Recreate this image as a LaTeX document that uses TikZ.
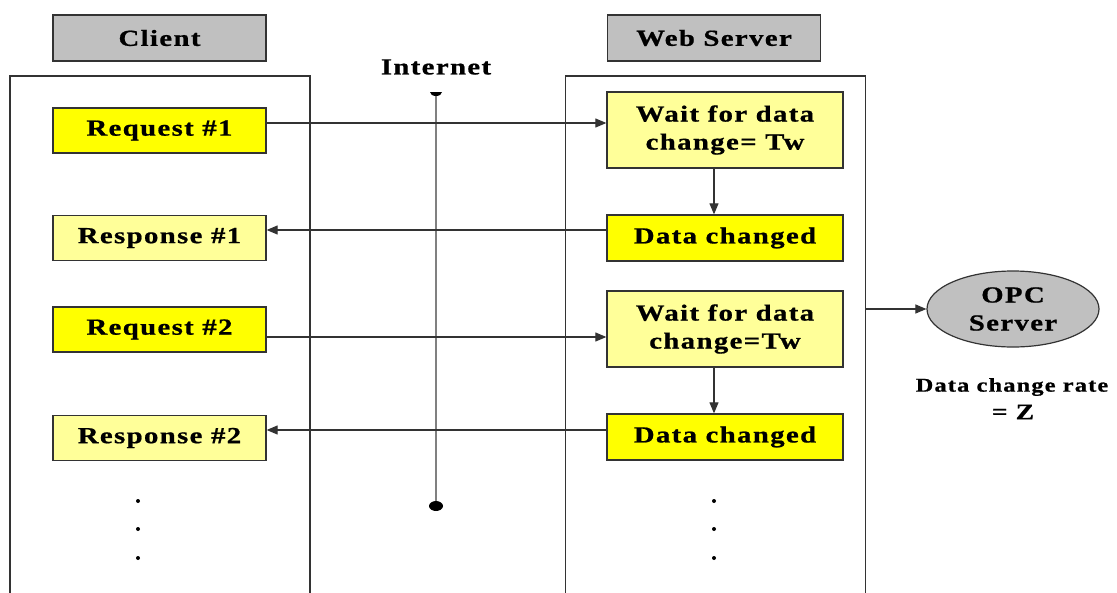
\documentclass[tikz,border=0pt]{standalone}
\usepackage{fontspec}
\setmainfont{Liberation Serif}[FakeStretch=1.25,LetterSpace=6,FakeBold=0.8]
\usetikzlibrary{arrows.meta,shapes.geometric,calc}
\definecolor{hdrgray}{HTML}{C0C0C0}
\definecolor{ybright}{HTML}{FFFF00}
\definecolor{ylight}{HTML}{FFFF99}
\definecolor{edge}{HTML}{333333}
\begin{document}
\begin{tikzpicture}[x=1pt,y=-1pt,
  every node/.style={font=\bfseries\fontsize{23}{28}\selectfont, inner sep=0pt},
  hdr/.style={draw=edge, line width=1.3pt, fill=hdrgray, minimum width=213pt, minimum height=46pt},
  lane/.style={draw=edge, line width=1.3pt, minimum width=300pt, minimum height=530pt},
  cbox/.style={draw=edge, line width=1.3pt, minimum width=213pt, minimum height=45pt},
  sbox/.style={draw=edge, line width=1.3pt, minimum width=236pt, align=center},
  arr/.style={draw=edge, line width=1.1pt, -{Triangle[length=11pt,width=9pt]}},
  dotmark/.style={circle, fill=black, minimum size=4pt}
]
\useasboundingbox (0,0) rectangle (1117,592);
\fill[white] (0,0) rectangle (1117,592);

% lanes
\node[lane] (clane) at (160,341) {};
\node[lane] (slane) at (715.5,341) {};

% headers
\node[hdr] (client) at (159.5,38) {Client};
\node[hdr] (web) at (714,38) {Web Server};

% client boxes
\node[cbox, fill=ybright] (req1) at (159.5,130.5) {Request \#1};
\node[cbox, fill=ylight] (resp1) at (159.5,238) {Response \#1};
\node[cbox, fill=ybright] (req2) at (159.5,329.5) {Request \#2};
\node[cbox, fill=ylight] (resp2) at (159.5,438) {Response \#2};

% server boxes
\node[sbox, fill=ylight, minimum height=76pt] (wait1) at (725,130) {Wait for data\\change= Tw};
\node[sbox, fill=ybright, minimum height=46pt] (dc1) at (725,238) {Data changed};
\node[sbox, fill=ylight, minimum height=76pt] (wait2) at (725,329) {Wait for data\\change=Tw};
\node[sbox, fill=ybright, minimum height=46pt] (dc2) at (725,437) {Data changed};

% internet
\node (inet) at (436,67) {Internet};
\coordinate (itop) at (436,92);
\coordinate (ibot) at (436,506);
\draw[gray, line width=1.6pt] (itop) -- (ibot);
\fill[black] ([xshift=-6pt]itop) arc[start angle=180, end angle=360, x radius=6pt, y radius=4pt] -- cycle;
\fill[black] (ibot) ellipse[x radius=7pt, y radius=5pt];

% OPC server
\node[ellipse, draw=edge, line width=1.2pt, fill=hdrgray, minimum width=172pt, minimum height=76pt, align=center] (opc) at (1013,309) {OPC\\Server};
\node[font=\bfseries\fontsize{19.5}{22}\selectfont] (rate) at (1012,387) {Data change rate};
\node[font=\bfseries\fontsize{22}{26}\selectfont] (zval) at (1013,412) {= Z};

% connectors
\draw[arr] ([yshift=7.5pt]req1.east) -- ([yshift=7.5pt]req1.east -| wait1.west);
\draw[arr] ([yshift=8pt]dc1.west) -- ([yshift=8pt]dc1.west -| resp1.east);
\draw[arr] ([yshift=-7.5pt]req2.east) -- ([yshift=-7.5pt]req2.east -| wait2.west);
\draw[arr] ([yshift=7pt]dc2.west) -- ([yshift=7pt]dc2.west -| resp2.east);
\draw[arr] ([xshift=-11pt]wait1.south) -- ([xshift=-11pt]dc1.north);
\draw[arr] ([xshift=-11pt]wait2.south) -- ([xshift=-11pt]dc2.north);
\draw[arr] (slane.east |- opc.west) -- (opc.west);

% continuation dots
\foreach \y [count=\i] in {501,529,558} {
  \node[dotmark] (cd\i) at (138,\y) {};
  \node[dotmark] (sd\i) at (714,\y) {};
}
\end{tikzpicture}
\end{document}
